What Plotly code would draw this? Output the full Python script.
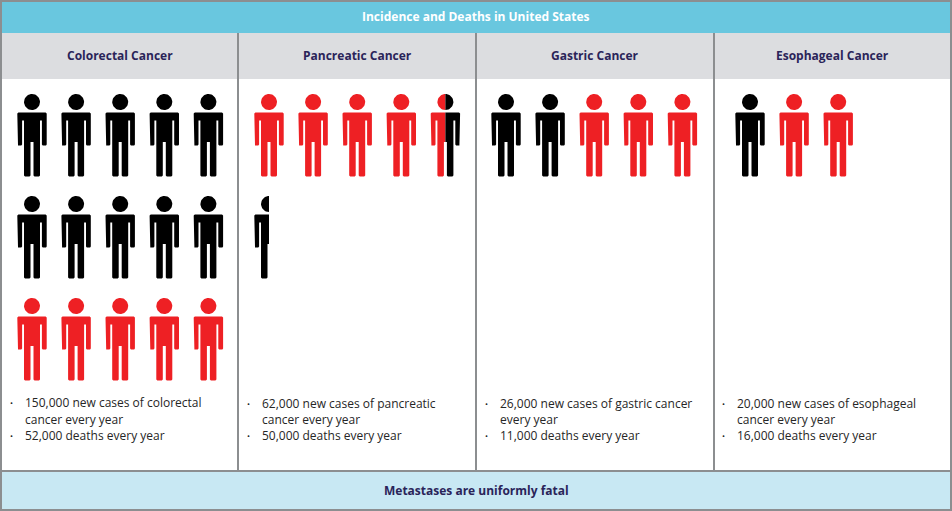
import math
import plotly.graph_objects as go

title = "Incidence and Deaths in United States"
footer = "Metastases are uniformly fatal"
categories = ["Colorectal Cancer", "Pancreatic Cancer", "Gastric Cancer", "Esophageal Cancer"]
first_lines = ["150,000 new cases of colorectal", "62,000 new cases of pancreatic",
               "26,000 new cases of gastric cancer", "20,000 new cases of esophageal"]
second_lines = ["cancer every year", "cancer every year", "every year", "cancer every year"]
third_lines = ["52,000 deaths every year", "50,000 deaths every year",
               "11,000 deaths every year", "16,000 deaths every year"]
black_icons = [10, 1, 2, 1]
red_icons = [5, 4.5, 3, 2]
red_first = [False, True, False, False]

W, H = 952, 511
RED, BLACK = "#ee2024", "#000000"
NAVY = "#2a2459"
GRID = "#8c8e90"
FONT = "Open Sans"

panel_x = [1, 238, 476, 714, 951]
first_cx = [32, 269, 506, 750]
step_x = 44.1
step_y = 102
head_y0 = 102

# one person, relative to the head centre, drawn from its left half
left_half = [(0, 10.5), (-13.6, 10.5), (-14.7, 11.6), (-14.7, 42.6), (-14, 43.6), (-10.7, 43.6), (-9.9, 42.6),
             (-9.9, 18.5), (-8, 18.5), (-8, 73.6), (-7, 74.6), (-2.5, 74.6), (-1.5, 73.6), (-1.5, 40), (0, 40)]
right_half = [(-x, y) for x, y in left_half]
whole = left_half + right_half[::-1]
angles = [2 * math.pi * i / 48 for i in range(49)]
head_whole = [(8 * math.cos(a), 8 * math.sin(a)) for a in angles]
half_angles = [math.pi / 2 + math.pi * i / 24 for i in range(25)]
head_left = [(8 * math.cos(a), 8 * math.sin(a)) for a in half_angles]
head_right = [(-x, y) for x, y in head_left]


def add_poly(store, pts, cx, cy):
    store["x"] += [cx + x for x, _ in pts] + [None]
    store["y"] += [cy + y for _, y in pts] + [None]


paths = {RED: {"x": [], "y": []}, BLACK: {"x": [], "y": []}}
for i in range(len(categories)):
    nb, nr = int(black_icons[i] * 2), int(red_icons[i] * 2)
    slots = [RED] * nr + [BLACK] * nb if red_first[i] else [BLACK] * nb + [RED] * nr
    for k in range(0, len(slots), 2):
        idx = k // 2
        cx = first_cx[i] + (idx % 5) * step_x
        cy = head_y0 + (idx // 5) * step_y
        left = slots[k]
        right = slots[k + 1] if k + 1 < len(slots) else None
        if left == right:
            add_poly(paths[left], whole, cx, cy)
            add_poly(paths[left], head_whole, cx, cy)
        else:
            add_poly(paths[left], left_half, cx, cy)
            add_poly(paths[left], head_left, cx, cy)
            if right:
                add_poly(paths[right], right_half, cx, cy)
                add_poly(paths[right], head_right, cx, cy)

fig = go.Figure()
for colour, p in paths.items():
    fig.add_trace(go.Scatter(x=p["x"], y=p["y"], mode="lines", fill="toself", fillcolor=colour,
                             line=dict(width=0, color=colour), hoverinfo="skip", showlegend=False))

shapes = [
    dict(type="rect", x0=0, x1=W, y0=0, y1=33, fillcolor="#69c7df", line_width=0, layer="below"),
    dict(type="rect", x0=0, x1=W, y0=33, y1=79, fillcolor="#dcdde0", line_width=0, layer="below"),
    dict(type="rect", x0=0, x1=W, y0=471, y1=511, fillcolor="#c8e8f3", line_width=0, layer="below"),
    dict(type="rect", x0=1, x1=W - 1, y0=1, y1=H - 1, line=dict(color=GRID, width=2), layer="above"),
    dict(type="line", x0=0, x1=W, y0=471, y1=471, line=dict(color=GRID, width=2), layer="above"),
]
for x in panel_x[1:4]:
    shapes.append(dict(type="line", x0=x, x1=x, y0=33, y1=471, line=dict(color=GRID, width=2), layer="above"))

ann = [
    dict(x=476, y=16, text=f"<b>{title}</b>", font=dict(size=12, color="white", family=FONT)),
    dict(x=476, y=490, text=f"<b>{footer}</b>", font=dict(size=12, color=NAVY, family=FONT)),
]
bullet_x = [11, 248, 486, 723]
text_y = [[402.5, 419.5, 435.5], [403.5, 419.5, 435.5], [403.5, 419.5, 435.5], [403.5, 419.5, 435.5]]
for i, name in enumerate(categories):
    centre = (panel_x[i] + panel_x[i + 1]) / 2
    ann.append(dict(x=centre, y=55.5, text=f"<b>{name}</b>", font=dict(size=12, color=NAVY, family=FONT)))
    lines = [first_lines[i], second_lines[i], third_lines[i]]
    for j, line in enumerate(lines):
        ann.append(dict(x=bullet_x[i] + 12, y=text_y[i][j], text=line, xanchor="left",
                        font=dict(size=12, color="#262626", family=FONT)))
    for j in (0, 2):
        ann.append(dict(x=bullet_x[i], y=text_y[i][j], text="•", xanchor="center",
                        font=dict(size=8, color="#262626", family=FONT)))
for a in ann:
    a.update(xref="x", yref="y", showarrow=False)
    a.setdefault("xanchor", "center")
    a["yanchor"] = "middle"

fig.update_layout(
    width=W, height=H, margin=dict(l=0, r=0, t=0, b=0), paper_bgcolor="white", plot_bgcolor="white",
    xaxis=dict(range=[0, W], visible=False, fixedrange=True),
    yaxis=dict(range=[H, 0], visible=False, fixedrange=True),
    shapes=shapes, annotations=ann, showlegend=False,
)
fig.write_html("out.html", config={"displayModeBar": False},
               post_script="document.body.style.margin='0';document.body.style.overflow='hidden';")
